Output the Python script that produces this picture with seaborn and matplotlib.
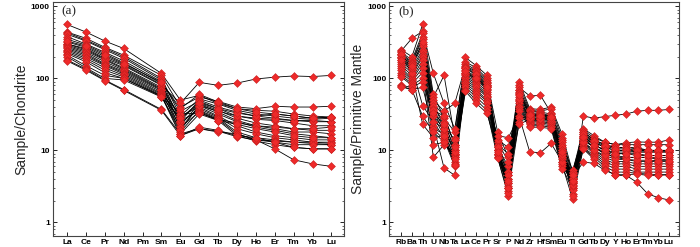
import numpy as np
import pandas as pd
import matplotlib
matplotlib.use("Agg")
import matplotlib.pyplot as plt
import seaborn as sns
from matplotlib.ticker import LogLocator, NullFormatter, FixedLocator

sns.set_theme(style="white")
plt.rcParams['font.family'] = ['Liberation Sans', 'DejaVu Sans']

# ---------------- data ----------------
ree_labels = ["La", "Ce", "Pr", "Nd", "Pm", "Sm", "Eu", "Gd", "Tb", "Dy", "Ho", "Er", "Tm", "Yb", "Lu"]
ree_measured = ["La", "Ce", "Pr", "Nd", "Sm", "Eu", "Gd", "Tb", "Dy", "Ho", "Er", "Tm", "Yb", "Lu"]

ree_01 = [560, 440, 330, 260, 117, 50, 58, 45, 38, 36, 35, 32, 30, 29]
ree_02 = [440, 360, 270, 210, 110, 40, 55, 48, 40, 38, 41, 40, 40, 41]
ree_03 = [430, 340, 260, 200, 100, 30, 52, 44, 36, 32, 30, 28, 27, 28]
ree_04 = [410, 330, 250, 190, 95, 25, 50, 40, 34, 30, 28, 26, 25, 25]
ree_05 = [380, 300, 230, 175, 90, 35, 48, 38, 30, 27, 26, 24, 22, 22]
ree_06 = [350, 290, 220, 165, 85, 22, 45, 36, 28, 24, 22, 20, 19, 19]
ree_07 = [320, 270, 200, 155, 82, 28, 44, 34, 26, 22, 20, 18, 18, 17]
ree_08 = [300, 260, 190, 150, 80, 45, 88, 80, 86, 98, 104, 108, 106, 110]
ree_09 = [300, 250, 185, 140, 75, 20, 42, 32, 25, 21, 19, 17, 16, 15]
ree_10 = [290, 240, 180, 135, 72, 30, 40, 30, 22, 18, 16, 15, 14, 14]
ree_11 = [280, 230, 170, 130, 70, 24, 38, 29, 20, 17, 15, 14, 13, 13]
ree_12 = [270, 220, 160, 125, 68, 18, 36, 28, 18, 15, 14, 13, 12.5, 12]
ree_13 = [260, 210, 155, 120, 65, 26, 35, 27, 17, 14, 13.5, 13, 13, 12.5]
ree_14 = [250, 200, 150, 115, 62, 21, 34, 26, 16, 13.5, 12, 11, 10.5, 10.5]
ree_15 = [240, 190, 140, 110, 60, 32, 33, 27, 24, 22, 21, 20, 20, 21]
ree_16 = [230, 180, 130, 105, 58, 17, 32, 26, 23, 20, 18, 16, 15, 15]
ree_17 = [220, 170, 120, 100, 57, 16, 20, 18.5, 15.5, 14, 13, 12, 12, 12]
ree_18 = [210, 150, 110, 100, 56, 19, 42, 35, 30, 28, 27, 26, 26, 25]
ree_19 = [200, 140, 100, 95, 55, 28, 46, 38, 33, 30, 32, 30, 28, 29]
ree_20 = [180, 135, 95, 70, 37, 17, 20, 18, 17, 14, 10.5, 7.4, 6.5, 6]
ree_21 = [175, 130, 93, 68, 36, 16, 21, 19, 16, 15, 13, 11, 10.5, 10.5]
ree_22 = [330, 280, 210, 160, 88, 38, 60, 47, 38, 34, 32, 30, 28, 29]

te_labels = ["Rb", "Ba", "Th", "U", "Nb", "Ta", "La", "Ce", "Pr", "Sr", "P", "Nd", "Zr",
             "Hf", "Sm", "Eu", "Ti", "Gd", "Tb", "Dy", "Y", "Ho", "Er", "Tm", "Yb", "Lu"]

te_01 = [250, 200, 560, 60, 28, 18, 195, 150, 110, 12, 5, 90, 38, 37, 40, 17, 5, 20, 16, 13, 12, 12.8, 13.1, 13, 13, 14]
te_02 = [240, 360, 450, 117, 45, 20, 170, 140, 100, 10, 4, 80, 36, 35, 38, 15, 4.5, 19, 15, 13, 12, 12, 12, 12, 12, 12]
te_03 = [230, 180, 420, 55, 110, 15, 160, 130, 95, 18, 8, 75, 57, 58, 33, 14, 4, 18, 14, 12, 11, 11, 11, 10, 10, 10]
te_04 = [220, 170, 380, 50, 35, 45, 150, 125, 90, 9, 3, 70, 35, 34, 32, 13, 3.5, 17, 13, 11, 10, 10, 10, 10, 9.8, 9.8]
te_05 = [210, 165, 350, 45, 30, 12, 145, 120, 85, 11, 6, 68, 33, 33, 30, 12, 5.3, 16, 12, 10, 9.5, 9.5, 9.5, 9.5, 9.5, 9.5]
te_06 = [200, 160, 300, 40, 25, 10, 140, 110, 80, 8, 2.3, 65, 32, 32, 29, 11, 3, 15, 11, 9, 8, 8, 8, 8, 7.5, 7.5]
te_07 = [190, 150, 280, 42, 22, 14, 130, 105, 78, 13, 7, 60, 30, 30, 28, 10, 2.5, 30, 28, 29.5, 30.7, 32, 35, 36, 36, 37]
te_08 = [180, 140, 250, 38, 20, 9, 120, 100, 75, 10, 3.5, 55, 28, 28, 27, 9.5, 4, 14, 11, 9, 8, 7.5, 7, 7, 7, 7]
te_09 = [170, 130, 230, 35, 18, 8, 115, 95, 70, 8.5, 3, 50, 27, 27, 26, 9, 3.5, 13, 10, 8, 7, 7, 6.5, 6.5, 6.5, 6.5]
te_10 = [160, 120, 210, 30, 16, 7, 110, 90, 65, 12, 9, 48, 26, 26, 25, 8, 4.5, 12.5, 9.5, 7.5, 6.5, 6.5, 6, 6, 6, 6]
te_11 = [150, 110, 200, 25, 15, 6.5, 105, 85, 60, 14, 11, 45, 25, 25, 24, 7.5, 3, 12, 9, 7, 6, 6, 5.5, 5.5, 5.5, 5.5]
te_12 = [140, 100, 180, 20, 14, 6, 100, 80, 57, 9, 4.5, 42, 24, 24, 23, 7, 3.8, 11, 8.5, 6.5, 5.5, 5.5, 5, 5, 5, 5]
te_13 = [130, 95, 160, 12, 13, 8.5, 95, 75, 55, 11, 2.7, 40, 23, 23, 22, 6.5, 2.1, 10.7, 8, 6, 5, 5, 4.8, 4.7, 4.6, 4.6]
te_14 = [120, 90, 140, 22, 5.7, 4.5, 90, 70, 50, 8, 3.2, 38, 22, 22, 21, 6, 2.8, 10.5, 7.5, 5.5, 4.5, 4.5, 3.6, 2.5, 2.2, 2.05]
te_15 = [110, 85, 120, 8, 12, 9, 85, 65, 48, 10, 5, 35, 21, 21, 20, 5.6, 4.2, 6.9, 6.6, 5.3, 4.6, 4.6, 4.7, 4.5, 4.5, 4.6]
te_16 = [105, 80, 100, 36, 30, 12, 80, 60, 45, 16, 15, 30, 9.5, 9.3, 12.5, 7, 3.2, 16, 13, 11, 10, 10, 9.5, 9.5, 9.5, 9.5]
te_17 = [80, 75, 90, 30, 20, 10, 75, 55, 40, 9, 3.5, 28, 30, 30, 28, 9, 4.8, 15, 12, 10, 9, 9, 9, 8.5, 8.5, 8.5]
te_18 = [78, 70, 75, 20, 17, 8, 70, 50, 36, 7.8, 2.6, 25, 29, 29, 27, 8, 3.3, 14, 11, 9.5, 8.5, 8, 8, 8, 8, 8]
te_19 = [77, 69, 30, 18, 13, 7.5, 66, 45, 33, 10, 4, 23, 27, 27, 26, 10, 2.3, 13, 10, 8.5, 7.5, 7.5, 7.3, 7.3, 7.2, 7.2]
te_20 = [200, 120, 23, 15, 16, 6.3, 120, 98, 72, 10, 3, 52, 28, 27, 27, 8.5, 3.6, 18, 14, 12, 11, 11, 10.5, 10, 10, 10]
te_21 = [220, 140, 42, 25, 20, 9.5, 140, 115, 82, 11, 4.5, 62, 32, 31, 30, 10, 3.8, 17, 13.5, 11.5, 10.5, 10.5, 10, 10, 10, 10]
te_22 = [180, 150, 320, 33, 23, 11, 125, 102, 76, 9.5, 3.8, 58, 31, 30, 29, 9.5, 4.5, 15.5, 12, 10, 9, 9, 8.5, 8.5, 8.5, 8.5]

ree_samples = [ree_01, ree_02, ree_03, ree_04, ree_05, ree_06, ree_07, ree_08, ree_09, ree_10, ree_11,
               ree_12, ree_13, ree_14, ree_15, ree_16, ree_17, ree_18, ree_19, ree_20, ree_21, ree_22]
te_samples = [te_01, te_02, te_03, te_04, te_05, te_06, te_07, te_08, te_09, te_10, te_11,
              te_12, te_13, te_14, te_15, te_16, te_17, te_18, te_19, te_20, te_21, te_22]

# long-form tables
ree_pos = {lab: i for i, lab in enumerate(ree_labels)}
rows = []
for si, s in enumerate(ree_samples):
    for lab, v in zip(ree_measured, s):
        rows.append({"sample": si, "x": ree_pos[lab], "value": v})
df_ree = pd.DataFrame(rows)

rows = []
for si, s in enumerate(te_samples):
    for i, v in enumerate(s):
        rows.append({"sample": si, "x": i, "value": v})
df_te = pd.DataFrame(rows)

# ---------------- figure ----------------
fig = plt.figure(figsize=(7.0, 2.47), dpi=100)
ax1 = fig.add_axes([0.075, 0.045, 0.416, 0.947])
ax2 = fig.add_axes([0.556, 0.045, 0.414, 0.947])

marker_kw = dict(marker="D", s=16, color="#ee2a2a", edgecolor="#c81e1e", linewidth=0.4, zorder=3)


def draw(ax, df, labels, xlim, ylabel, tag):
    sns.lineplot(data=df, x="x", y="value", units="sample", estimator=None, color="black",
                 linewidth=0.6, ax=ax, legend=False, sort=False)
    sns.scatterplot(data=df, x="x", y="value", ax=ax, legend=False, **marker_kw)
    ax.set_yscale("log")
    ax.set_ylim(0.65, 1150)
    ax.set_xlim(*xlim)
    ax.xaxis.set_major_locator(FixedLocator(range(len(labels))))
    ax.set_xticklabels(labels, fontsize=6, fontweight="bold")
    ax.yaxis.set_major_locator(FixedLocator([1, 10, 100, 1000]))
    ax.set_yticklabels(["1", "10", "100", "1000"], fontsize=6, fontweight="bold")
    ax.yaxis.set_minor_locator(LogLocator(base=10, subs=np.arange(2, 10), numticks=20))
    ax.yaxis.set_minor_formatter(NullFormatter())
    ax.tick_params(axis="both", which="major", direction="in", length=3, width=0.6,
                   pad=2, left=True, bottom=True, right=True, colors="black")
    ax.tick_params(axis="y", which="minor", direction="in", length=1.6, width=0.5,
                   left=True, right=True)
    ax.tick_params(axis="y", which="both", labelright=False)
    ax.set_xlabel("")
    ax.set_ylabel(ylabel, fontsize=10, labelpad=2)
    for sp in ax.spines.values():
        sp.set_visible(True)
        sp.set_color("#444444")
        sp.set_linewidth(0.8)
    ax.text(0.03, 0.985, tag, transform=ax.transAxes, ha="left", va="top",
            fontsize=9.5, family=["Liberation Serif", "DejaVu Serif"])


draw(ax1, df_ree, ree_labels, (-0.77, 14.65), "Sample/Chondrite", "(a)")
draw(ax2, df_te, te_labels, (-1.12, 25.93), "Sample/Primitive Mantle", "(b)")

fig.savefig("out.png", dpi=100, facecolor="white")
